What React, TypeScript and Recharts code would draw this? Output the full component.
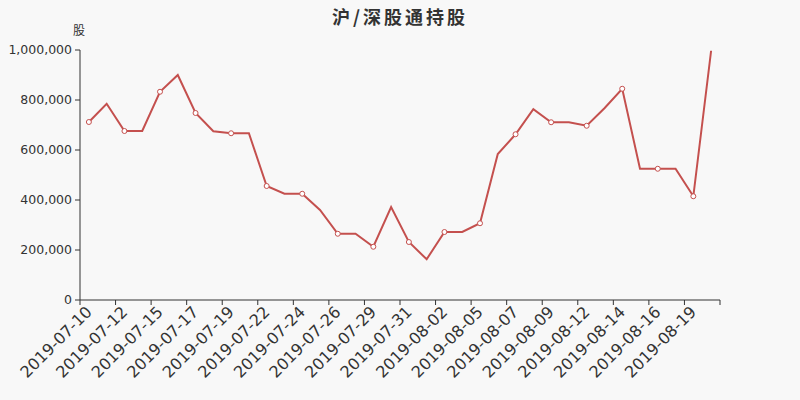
import { Line, LineChart, XAxis, YAxis } from 'recharts';

const dates = [
  '2019-07-10', '2019-07-11', '2019-07-12', '2019-07-13', '2019-07-15', '2019-07-16',
  '2019-07-17', '2019-07-18', '2019-07-19', '2019-07-20', '2019-07-22', '2019-07-23',
  '2019-07-24', '2019-07-25', '2019-07-26', '2019-07-27', '2019-07-29', '2019-07-30',
  '2019-07-31', '2019-08-01', '2019-08-02', '2019-08-03', '2019-08-05', '2019-08-06',
  '2019-08-07', '2019-08-08', '2019-08-09', '2019-08-10', '2019-08-12', '2019-08-13',
  '2019-08-14', '2019-08-15', '2019-08-16', '2019-08-17', '2019-08-19', '2019-08-20',
];

const holdings = [
  712000, 785000, 676000, 676000, 833000, 900000,
  748000, 675000, 667000, 667000, 456000, 425000,
  425000, 360000, 265000, 265000, 213000, 372000,
  232000, 163000, 272000, 272000, 307000, 584000,
  663000, 763000, 711000, 711000, 697000, 767000,
  845000, 525000, 525000, 525000, 415000, 997000,
];

const yTicks = [0, 200000, 400000, 600000, 800000, 1000000];

const data = dates.map((d, i) => ({ date: d, value: holdings[i] }));

const LINE_COLOR = '#c4504e';
const TEXT_COLOR = '#333';
const FONT = '"DejaVu Sans", sans-serif';
const PLOT_W = 640;
const step = PLOT_W / dates.length;

function XTick(props: any) {
  const { x, y, payload } = props;
  const axisY = y - 7;
  const isLast = payload.value === dates[dates.length - 2];
  return (
    <g>
      <line x1={x - step / 2} x2={x - step / 2} y1={axisY} y2={axisY + 5} stroke={TEXT_COLOR} />
      {isLast && (
        <line x1={x + step * 1.5} x2={x + step * 1.5} y1={axisY} y2={axisY + 5} stroke={TEXT_COLOR} />
      )}
      <text
        x={x}
        y={y + 2}
        dy="0.35em"
        textAnchor="end"
        fill={TEXT_COLOR}
        fontSize={16}
        fontFamily={FONT}
        transform={`rotate(-45, ${x}, ${y + 2})`}
      >
        {payload.value}
      </text>
    </g>
  );
}

function EvenDot(props: any) {
  const { cx, cy, index } = props;
  if (index % 2 !== 0) return <g key={`d${index}`} />;
  return <circle key={`d${index}`} cx={cx} cy={cy} r={2.5} fill="#fff" stroke={LINE_COLOR} strokeWidth={1} />;
}

export default function App() {
  return (
    <div
      style={{
        position: 'fixed',
        left: 0,
        top: 0,
        width: 800,
        height: 400,
        background: '#f8f8f8',
        fontFamily: FONT,
      }}
    >
      <div
        style={{
          position: 'absolute',
          top: 3,
          left: 0,
          width: 800,
          textAlign: 'center',
          fontSize: 18,
          fontWeight: 'bold',
          letterSpacing: 3,
          color: TEXT_COLOR,
          fontFamily: '"Noto Sans CJK SC", sans-serif',
        }}
      >
        沪/深股通持股
      </div>
      <div
        style={{
          position: 'absolute',
          top: 21,
          left: 73,
          fontSize: 12,
          color: TEXT_COLOR,
          fontFamily: '"Noto Sans CJK SC", sans-serif',
        }}
      >
        股
      </div>
      <LineChart width={800} height={400} data={data} margin={{ top: 50, right: 80, bottom: 0, left: 0 }}>
        <XAxis
          dataKey="date"
          interval={1}
          height={100}
          padding={{ left: step / 2, right: step / 2 }}
          tickLine={false}
          tickSize={5}
          tickMargin={2}
          axisLine={{ stroke: TEXT_COLOR }}
          tick={<XTick />}
        />
        <YAxis
          width={80}
          domain={[0, 1000000]}
          ticks={yTicks}
          tickSize={5}
          tickMargin={3}
          tickLine={{ stroke: TEXT_COLOR }}
          axisLine={{ stroke: TEXT_COLOR }}
          tick={{ fill: TEXT_COLOR, fontSize: 12.5, fontFamily: FONT }}
          tickFormatter={(v: number) => v.toLocaleString('en-US')}
        />
        <Line
          type="linear"
          dataKey="value"
          stroke={LINE_COLOR}
          strokeWidth={2}
          dot={<EvenDot />}
          activeDot={false}
          isAnimationActive={false}
        />
      </LineChart>
    </div>
  );
}
